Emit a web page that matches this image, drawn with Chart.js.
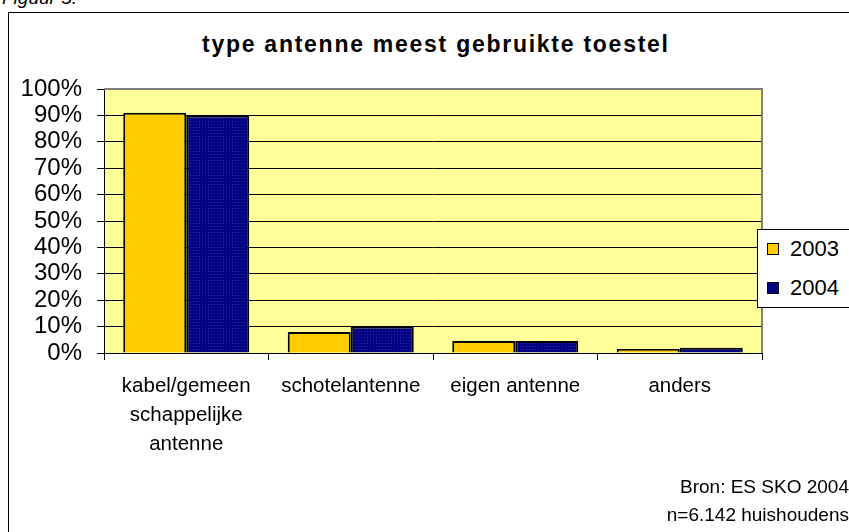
<!DOCTYPE html>
<html>
<head>
<meta charset="utf-8">
<script src="https://cdn.jsdelivr.net/npm/chart.js@4.4.0/dist/chart.umd.min.js"></script>
<style>
    body { margin: 0; background: #fff; font-family: 'Liberation Sans', Arial, sans-serif; }
    #wrap { position: relative; width: 849px; height: 532px; overflow: hidden; }
    #frame { position: absolute; left: 8px; top: 12px; width: 900px; height: 600px; border: 1px solid #000; box-sizing: border-box; }
    #fig { position: absolute; left: 2px; top: -13px; font-size: 19px; font-style: italic; }
    #title { position: absolute; left: 202px; top: 31px; font-size: 23px; font-weight: bold; white-space: nowrap; }
    #legend { position: absolute; left: 757px; top: 229px; width: 120px; height: 79px; border: 1px solid #000; background: #fff; box-sizing: border-box; }
    .item { position: absolute; left: 9px; font-size: 22px; line-height: 22px; }
    .item span { display: inline-block; width: 10px; height: 10px; border: 1px solid #000; margin-right: 11px; vertical-align: 1px; }
    .src { position: absolute; right: 0; font-size: 19px; white-space: nowrap; }
    canvas { position: absolute; left: 0; top: 0; }
</style>
</head>
<body>
<div id="wrap">
    <div id="frame"></div>
    <div id="fig">Figuur 5.</div>
    <div id="title">type antenne meest gebruikte toestel</div>
    <canvas id="chart" width="849" height="532"></canvas>
    <div id="legend">
        <div class="item" style="top:8px"><span style="background:#FFCC00"></span>2003</div>
        <div class="item" style="top:47px"><span style="background:#000080"></span>2004</div>
    </div>
    <div class="src" style="top:476px">Bron: ES SKO 2004</div>
    <div class="src" style="top:504px">n=6.142 huishoudens</div>
</div>
<script>
// data
const categories = [['kabel/gemeen', 'schappelijke', 'antenne'], 'schotelantenne', 'eigen antenne', 'anders'];
const values2003 = [91, 8, 4.5, 1.5];
const values2004 = [90, 10, 4.5, 2];
const yTicks = [0, 10, 20, 30, 40, 50, 60, 70, 80, 90, 100];

// stretch title to the width in the reference
const title = document.getElementById('title');
const txt = title.textContent;
const w = title.getBoundingClientRect().width;
title.style.letterSpacing = Math.max(0, (466 - w) / (txt.length - 1)) + 'px';

// dotted navy fill
function navyPattern() {
    const c = document.createElement('canvas');
    c.width = 3; c.height = 3;
    const g = c.getContext('2d');
    g.fillStyle = '#000080';
    g.fillRect(0, 0, 3, 3);
    g.fillStyle = '#2a2ab8';
    g.fillRect(1, 1, 1, 1);
    return g.createPattern(c, 'repeat');
}
const ctx = document.getElementById('chart').getContext('2d');

const plotBg = {
    id: 'plotBg',
    beforeDraw(chart) {
        const a = chart.chartArea, c = chart.ctx;
        c.save();
        c.fillStyle = '#FFFF99';
        c.fillRect(a.left, a.top, a.right - a.left, a.bottom - a.top);
        c.restore();
    },
    afterDatasetsDraw(chart) {
        const a = chart.chartArea, c = chart.ctx;
        c.save();
        c.strokeStyle = '#808080';
        c.lineWidth = 2;
        c.beginPath();
        c.moveTo(a.left, a.top);
        c.lineTo(a.right, a.top);
        c.lineTo(a.right, a.bottom);
        c.stroke();
        c.restore();
    }
};

new Chart(ctx, {
    type: 'bar',
    data: {
        labels: categories,
        datasets: [{
            label: '2003',
            data: values2003,
            backgroundColor: '#FFCC00',
            borderColor: '#000',
            borderWidth: 2,
            categoryPercentage: 0.766,
            barPercentage: 1
        }, {
            label: '2004',
            data: values2004,
            backgroundColor: navyPattern(),
            borderColor: '#000',
            borderWidth: 2,
            categoryPercentage: 0.766,
            barPercentage: 1
        }]
    },
    options: {
        responsive: false,
        animation: false,
        layout: { padding: { left: 0, top: 89, right: 87, bottom: 79 } },
        plugins: {
            legend: { display: false },
            title: { display: false },
            tooltip: { enabled: false }
        },
        scales: {
            y: {
                min: 0,
                max: 100,
                afterFit: function(scale) { scale.width = 104; },
                afterBuildTicks: function(scale) { scale.ticks = yTicks.map(v => ({ value: v })); },
                ticks: {
                    color: '#000',
                    padding: 15,
                    autoSkip: false,
                    font: { family: "'Liberation Sans', Arial", size: 24 },
                    callback: function(v) { return v + '%'; }
                },
                grid: { color: '#000', lineWidth: 1, tickLength: 7 },
                border: { color: '#000', width: 1 }
            },
            x: {
                afterFit: function(scale) { scale.height = 100; },
                ticks: {
                    color: '#000',
                    padding: 12,
                    maxRotation: 0,
                    font: { family: "'Liberation Sans', Arial", size: 20.5, lineHeight: 1.42 }
                },
                grid: { drawOnChartArea: false, color: '#000', tickLength: 7 },
                border: { color: '#000', width: 1 }
            }
        }
    },
    plugins: [plotBg]
});
</script>
</body>
</html>
